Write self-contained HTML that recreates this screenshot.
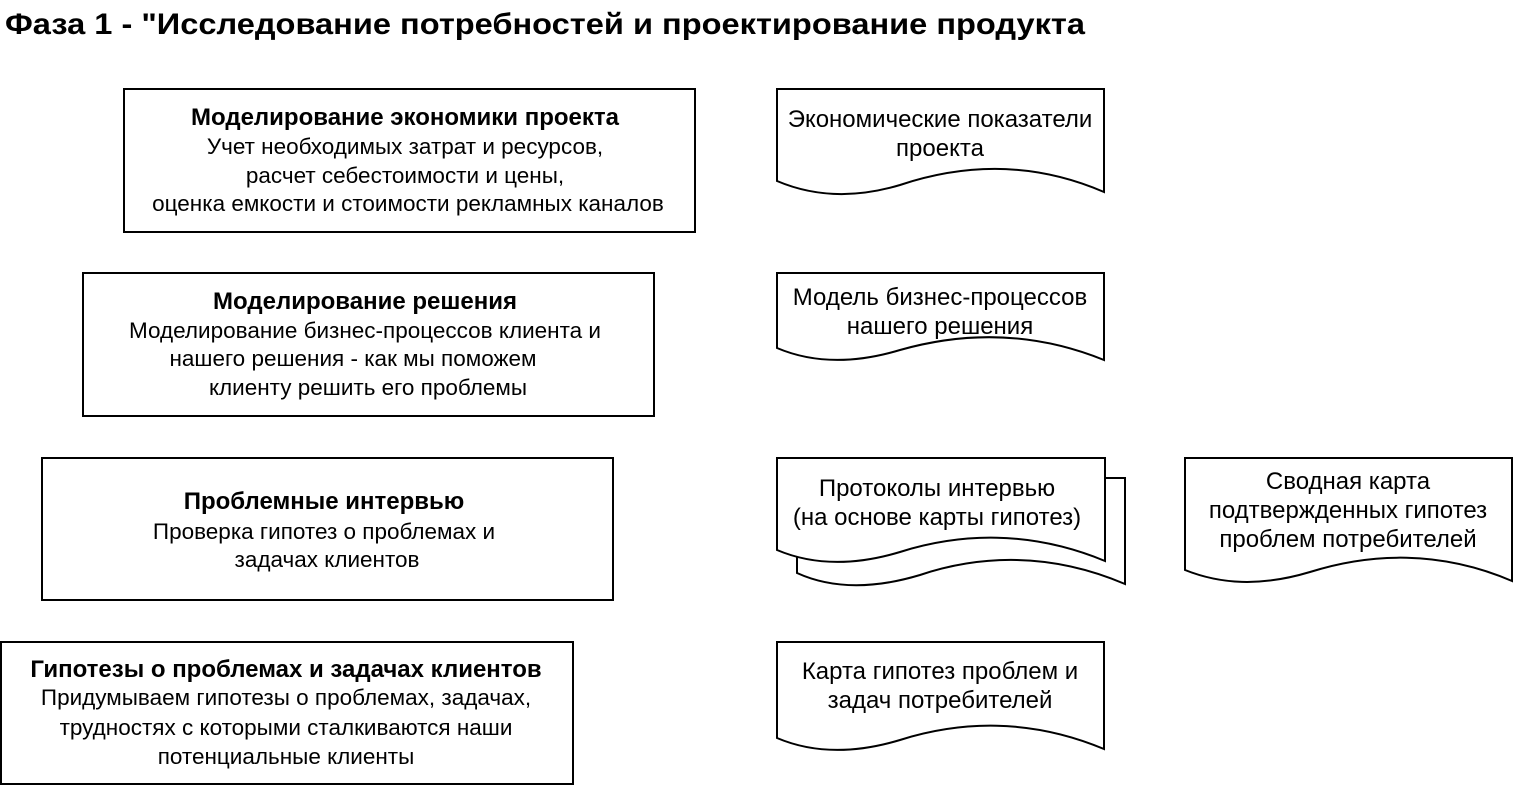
<!DOCTYPE html>
<html><head><meta charset="utf-8"><style>
html,body{margin:0;padding:0;background:#fff}
svg{display:block}
text{font-family:"Liberation Sans",Arial,sans-serif;fill:#000}
.t{font-size:24px;font-weight:bold}
.n{font-size:22.5px}
.d{font-size:24px}
</style></head><body>
<svg width="1513" height="786" viewBox="0 0 1513 786" xmlns="http://www.w3.org/2000/svg">
<text x="5" y="34" font-size="30" font-weight="bold" textLength="1080" lengthAdjust="spacingAndGlyphs">Фаза 1 - "Исследование потребностей и проектирование продукта</text>
<g fill="none" stroke="#000" stroke-width="2">
<rect x="124" y="89" width="571" height="143"/>
<rect x="83" y="273" width="571" height="143"/>
<rect x="42" y="458" width="571" height="142"/>
<rect x="1" y="642" width="572" height="142"/>
<path d="M777,89 H1104 V192 C1030,160 960,165 900,185 C850,200 810,195 777,181 Z" fill="#fff"/>
<path d="M777,273 H1104 V360 C1030,330 960,333 900,350 C850,365 810,362 777,348 Z" fill="#fff"/>
<path d="M797,478 H1125 V584 C1050,552 980,555 920,575 C870,590 830,588 797,573 Z" fill="#fff"/>
<path d="M777,458 H1105 V561 C1030,530 960,533 900,552 C850,567 810,564 777,550 Z" fill="#fff"/>
<path d="M1185,458 H1512 V581 C1440,550 1370,553 1310,572 C1260,587 1220,584 1185,570 Z" fill="#fff"/>
<path d="M777,642 H1104 V749 C1030,718 960,721 900,740 C850,755 810,752 777,738 Z" fill="#fff"/>
</g>
<g text-anchor="middle">
<text class="t" x="405" y="125">Моделирование экономики проекта</text>
<text class="n" x="405" y="154">Учет необходимых затрат и ресурсов,</text>
<text class="n" x="405" y="183">расчет себестоимости и цены,</text>
<text class="n" x="408" y="211">оценка емкости  и стоимости рекламных каналов</text>

<text class="t" x="365" y="309">Моделирование решения</text>
<text class="n" x="365" y="338">Моделирование бизнес-процессов клиента и</text>
<text class="n" x="353" y="366">нашего решения - как мы поможем</text>
<text class="n" x="368" y="395">клиенту решить его проблемы</text>

<text class="t" x="324" y="509">Проблемные интервью</text>
<text class="n" x="324" y="539">Проверка гипотез о проблемах и</text>
<text class="n" x="327" y="567">задачах клиентов</text>

<text class="t" x="286" y="677">Гипотезы о проблемах и задачах клиентов</text>
<text class="n" x="286" y="705">Придумываем гипотезы о проблемах, задачах,</text>
<text class="n" x="286" y="735">трудностях с которыми сталкиваются наши</text>
<text class="n" x="286" y="764">потенциальные клиенты</text>

<text class="d" x="940" y="127">Экономические показатели</text>
<text class="d" x="940" y="156">проекта</text>
<text class="d" x="940" y="305">Модель бизнес-процессов</text>
<text class="d" x="940" y="334">нашего решения</text>
<text class="d" x="937" y="496">Протоколы интервью</text>
<text class="d" x="937" y="525">(на основе карты гипотез)</text>
<text class="d" x="1348" y="489">Сводная карта</text>
<text class="d" x="1348" y="518">подтвержденных гипотез</text>
<text class="d" x="1348" y="547">проблем потребителей</text>
<text class="d" x="940" y="679">Карта гипотез проблем и</text>
<text class="d" x="940" y="708">задач потребителей</text>
</g>
</svg>
</body></html>
